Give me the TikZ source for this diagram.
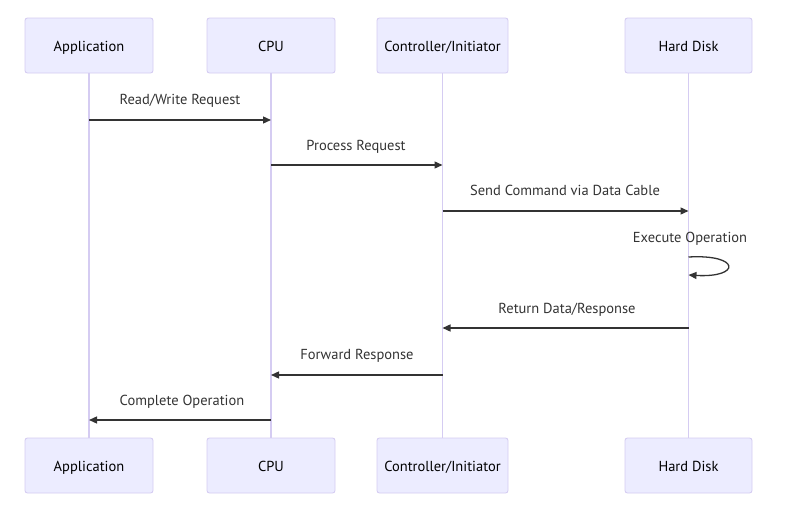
\documentclass[tikz,border=0pt]{standalone}
\usepackage{fontspec}
\setmainfont{PT Sans}
\usetikzlibrary{arrows.meta}
\definecolor{actfill}{HTML}{ECECFF}
\definecolor{actdraw}{HTML}{D5CCF2}
\definecolor{lifeline}{HTML}{D5CCF2}
\definecolor{msg}{HTML}{333333}
\tikzset{
  actor/.style={draw=actdraw, fill=actfill, line width=0.9pt, rounded corners=2.5pt, minimum height=55pt, inner sep=0pt, font=\fontsize{14.5}{17}\selectfont, text=black, text height=11pt, text depth=0pt},
  life/.style={draw=lifeline, line width=1.4pt},
  msgline/.style={draw=msg, line width=1.3pt, -{Triangle[length=8pt,width=7pt]}},
  msglabel/.style={font=\fontsize{14.5}{17}\selectfont, text=msg, inner sep=0pt, text height=10pt, text depth=3pt}
}
\begin{document}
\begin{tikzpicture}[x=1pt,y=-1pt]
\useasboundingbox (0,0) rectangle (793,506);
% top actors
\node[actor, minimum width=128pt] (a1) at (89,45.5) {Application};
\node[actor, minimum width=128pt] (c1) at (271,45.5) {CPU};
\node[actor, minimum width=131pt] (i1) at (442.5,45.5) {Controller/Initiator};
\node[actor, minimum width=127pt] (h1) at (688.5,45.5) {Hard Disk};
% bottom actors
\node[actor, minimum width=128pt] (a2) at (89,465.5) {Application};
\node[actor, minimum width=128pt] (c2) at (271,465.5) {CPU};
\node[actor, minimum width=131pt] (i2) at (442.5,465.5) {Controller/Initiator};
\node[actor, minimum width=127pt] (h2) at (688.5,465.5) {Hard Disk};
% lifelines
\draw[life] (a1.south) -- (a2.north);
\draw[life] (c1.south) -- (c2.north);
\draw[life] (i1.south) -- (i2.north);
\draw[life] (h1.south) -- (h2.north);
% message anchor coordinates
\coordinate (m1s) at (a1.south |- 0,120); \coordinate (m1e) at (c1.south |- 0,120);
\coordinate (m2s) at (c1.south |- 0,165); \coordinate (m2e) at (i1.south |- 0,165);
\coordinate (m3s) at (i1.south |- 0,211); \coordinate (m3e) at (h1.south |- 0,211);
\coordinate (l1) at (h1.south |- 0,257); \coordinate (l2) at (h1.south |- 0,275);
\coordinate (m5s) at (h1.south |- 0,328); \coordinate (m5e) at (i1.south |- 0,328);
\coordinate (m6s) at (i1.south |- 0,375); \coordinate (m6e) at (c1.south |- 0,375);
\coordinate (m7s) at (c1.south |- 0,420); \coordinate (m7e) at (a1.south |- 0,420);
\draw[msgline] (m1s) -- (m1e);
\draw[msgline] (m2s) -- (m2e);
\draw[msgline] (m3s) -- (m3e);
\draw[msgline] (l1) .. controls (741,254) and (741,278) .. (l2);
\draw[msgline] (m5s) -- (m5e);
\draw[msgline] (m6s) -- (m6e);
\draw[msgline] (m7s) -- (m7e);
% labels
\node[msglabel] (t1) at (180,101) {Read/Write Request};
\node[msglabel] (t2) at (356,147) {Process Request};
\node[msglabel] (t3) at (565,192) {Send Command via Data Cable};
\node[msglabel] (t4) at (690,239) {Execute Operation};
\node[msglabel] (t5) at (567,310) {Return Data/Response};
\node[msglabel] (t6) at (357,356) {Forward Response};
\node[msglabel] (t7) at (182,402) {Complete Operation};
\end{tikzpicture}
\end{document}
